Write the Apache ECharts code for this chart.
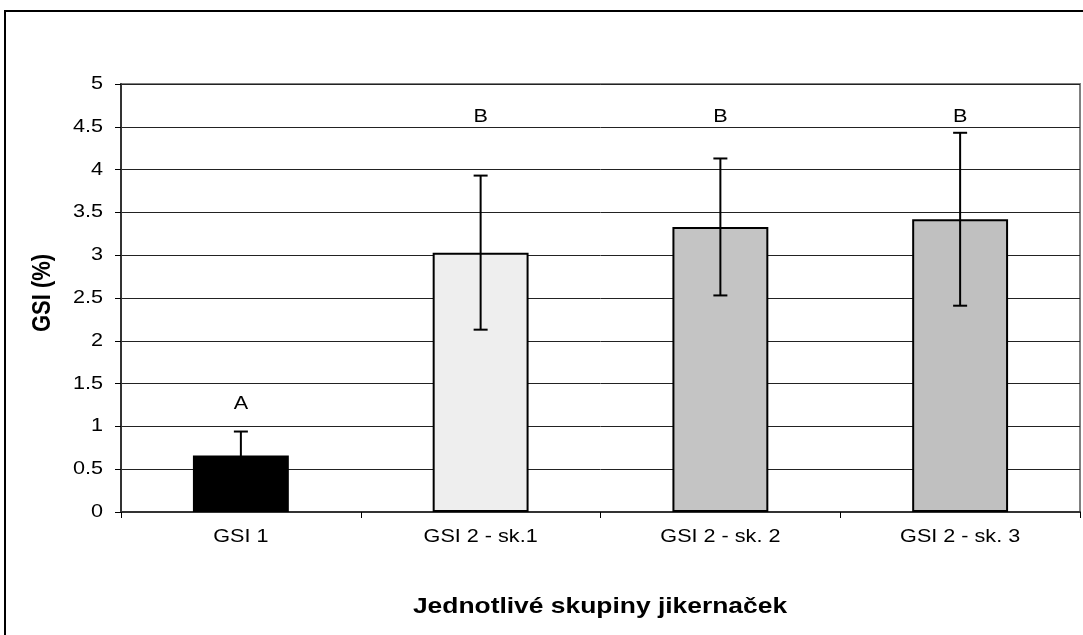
<!DOCTYPE html>
<html><head><meta charset="utf-8">
<script src="https://cdn.jsdelivr.net/npm/echarts@6/dist/echarts.min.js"></script>
<style>html,body{margin:0;padding:0;background:#fff}#c{width:1083px;height:635px}</style>
</head><body><div id="c"></div>
<script>
const categories = ['GSI 1', 'GSI 2 - sk.1', 'GSI 2 - sk. 2', 'GSI 2 - sk. 3'];
const means = [0.66, 3.03, 3.33, 3.42];
const errors = [0.28, 0.90, 0.80, 1.01];
const letters = ['A', 'B', 'B', 'B'];
const letterY = [1.26, 4.61, 4.61, 4.61];
const yTicks = [0, 0.5, 1, 1.5, 2, 2.5, 3, 3.5, 4, 4.5, 5];
const barColors = ['#000000', '#eeeeee', '#c4c4c4', '#c0c0c0'];

const font = '"Liberation Sans", Arial, sans-serif';
const STRETCH = 1.2;
const chart = echarts.init(document.getElementById('c'), null, {renderer: 'canvas'});

function stretchedText(x, y, text, size, align, weight) {
  return {type: 'text', x: x, y: y, scaleX: STRETCH,
    style: {text: text, x: 0, y: 0, align: align, verticalAlign: 'middle',
      font: (weight || 'normal') + ' ' + size + 'px ' + font, fill: '#000'}};
}

chart.setOption({
  animation: false,
  backgroundColor: '#fff',
  grid: {left: 121, right: 3, top: 84, bottom: 123, show: true, borderColor: '#808080', borderWidth: 2, backgroundColor: 'transparent'},
  xAxis: {
    type: 'category', data: categories,
    axisLine: {lineStyle: {color: '#333', width: 2}},
    axisTick: {show: true, alignWithLabel: false, length: 6, lineStyle: {color: '#000'}},
    axisLabel: {show: false},
    splitLine: {show: false}
  },
  yAxis: {
    type: 'value', min: 0, max: 5, interval: 0.5,
    axisLine: {show: true, lineStyle: {color: '#333', width: 2}},
    axisTick: {show: true, length: 6, lineStyle: {color: '#000'}},
    axisLabel: {show: false},
    splitLine: {show: true, lineStyle: {color: '#222', width: 1}}
  },
  graphic: [
    {type: 'rect', shape: {x: 5, y: 11, width: 1200, height: 800}, style: {fill: 'none', stroke: '#000', lineWidth: 2}, z: 100},
    {type: 'text', x: 600, y: 607, scaleX: STRETCH, style: {text: 'Jednotlivé skupiny jikernaček', x: 0, y: 0, font: 'bold 22px ' + font, fill: '#000', align: 'center', verticalAlign: 'middle'}},
    {type: 'text', x: 43, y: 293, rotation: Math.PI / 2, scaleY: STRETCH, style: {text: 'GSI (%)', x: 0, y: 0, font: 'bold 22px ' + font, fill: '#000', align: 'center', verticalAlign: 'middle'}}
  ],
  series: [
    {
      type: 'bar', barWidth: '40%',
      data: means.map((v, i) => ({value: v, itemStyle: {color: barColors[i]}})),
      itemStyle: {borderColor: '#000', borderWidth: 2},
      z: 2
    },
    {
      type: 'custom', z: 5,
      data: means.map((v, i) => [i, v - errors[i], v + errors[i]]),
      renderItem: function (params, api) {
        const lo = api.coord([api.value(0), api.value(1)]);
        const hi = api.coord([api.value(0), api.value(2)]);
        const hw = 7;
        const st = {stroke: '#000', lineWidth: 2};
        return {type: 'group', children: [
          {type: 'line', shape: {x1: lo[0], y1: lo[1], x2: hi[0], y2: hi[1]}, style: st},
          {type: 'line', shape: {x1: lo[0] - hw, y1: lo[1], x2: lo[0] + hw, y2: lo[1]}, style: st},
          {type: 'line', shape: {x1: hi[0] - hw, y1: hi[1], x2: hi[0] + hw, y2: hi[1]}, style: st}
        ]};
      }
    },
    {
      // significance letters
      type: 'custom', z: 6, clip: false,
      data: letterY.map((v, i) => [i, v]),
      renderItem: function (params, api) {
        const p = api.coord([api.value(0), api.value(1)]);
        return stretchedText(p[0], p[1], letters[params.dataIndex], 18, 'center');
      }
    },
    {
      // x tick labels
      type: 'custom', z: 6, clip: false,
      data: categories.map((c, i) => [i, 0]),
      renderItem: function (params, api) {
        const p = api.coord([api.value(0), 0]);
        return stretchedText(p[0], p[1] + 25, categories[params.dataIndex], 18, 'center');
      }
    },
    {
      // y tick labels
      type: 'custom', z: 6, clip: false,
      data: yTicks.map(v => [0, v]),
      renderItem: function (params, api) {
        const p = api.coord([0, api.value(1)]);
        return stretchedText(params.coordSys.x - 18, p[1], String(yTicks[params.dataIndex]), 18, 'right');
      }
    }
  ]
});
</script></body></html>
